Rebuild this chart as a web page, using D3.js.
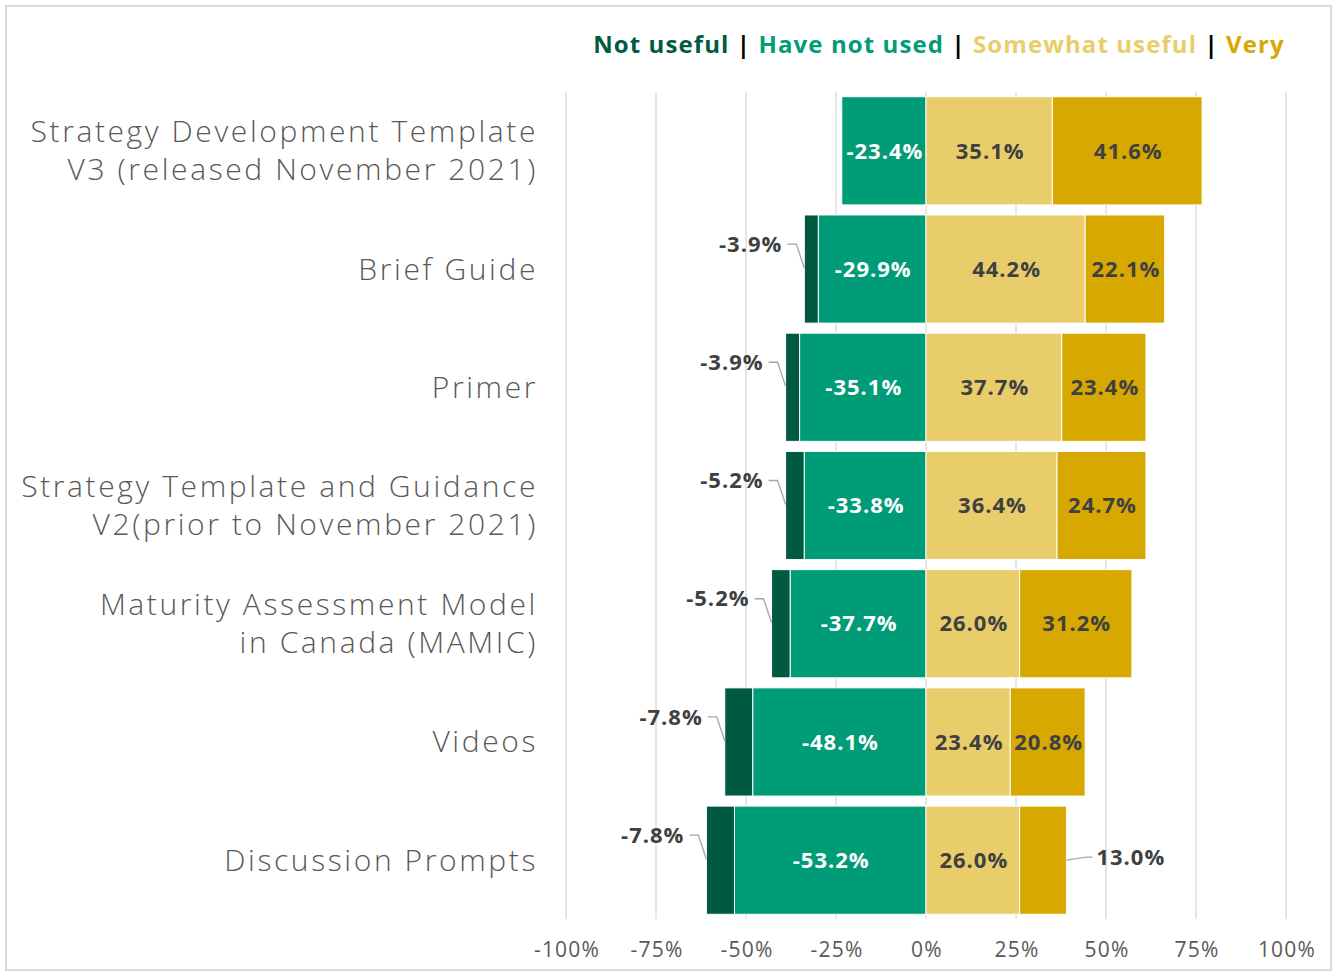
<!DOCTYPE html>
<html>
<head>
<meta charset="utf-8">
<script src="https://cdn.jsdelivr.net/npm/d3@7"></script>
<style>
  body { margin: 0; background: #fff; }
  svg { font-family: "Open Sans", sans-serif; }
</style>
</head>
<body>
<svg id="chart"></svg>
<script>
const categories = [
  ["Strategy Development Template", "V3 (released November 2021)"],
  ["Brief Guide"],
  ["Primer"],
  ["Strategy Template and Guidance", "V2(prior to November 2021)"],
  ["Maturity Assessment Model", "in Canada (MAMIC)"],
  ["Videos"],
  ["Discussion Prompts"]
];
const notUseful = [0, 3.9, 3.9, 5.2, 5.2, 7.8, 7.8];
const notUsed = [23.4, 29.9, 35.1, 33.8, 37.7, 48.1, 53.2];
const somewhat = [35.1, 44.2, 37.7, 36.4, 26.0, 23.4, 26.0];
const very = [41.6, 22.1, 23.4, 24.7, 31.2, 20.8, 13.0];
const ticks = [-100, -75, -50, -25, 0, 25, 50, 75, 100];
const legendItems = ["Not useful", "Have not used", "Somewhat useful", "Very"];

const width = 1337;
const height = 976;
const colors = ["#005A42", "#009B77", "#E8CD6A", "#D6A800"];

const svg = d3.select("#chart")
  .attr("width", width)
  .attr("height", height);

// outer frame
svg.append("rect")
  .attr("x", 6).attr("y", 6)
  .attr("width", 1325).attr("height", 964)
  .attr("fill", "none")
  .attr("stroke", "#d9d9d9")
  .attr("stroke-width", 2);

const x = d3.scaleLinear().domain([-100, 100]).range([566, 1286]);
const y = d3.scaleBand()
  .domain(d3.range(categories.length))
  .range([92, 919])
  .paddingInner(0.085)
  .paddingOuter(0.04);

// gridlines
svg.append("g")
  .selectAll("line")
  .data(ticks)
  .enter()
  .append("line")
  .attr("x1", d => x(d)).attr("x2", d => x(d))
  .attr("y1", 92).attr("y2", 919)
  .attr("stroke", "#d9d9d9")
  .attr("stroke-width", 1.3);

// tick labels
svg.append("g")
  .selectAll("text")
  .data(ticks)
  .enter()
  .append("text")
  .attr("x", d => x(d) + 1)
  .attr("y", 957)
  .attr("text-anchor", "middle")
  .attr("fill", "#595959")
  .style("font-size", "21px")
  .style("letter-spacing", "1.2px")
  .text(d => d + "%");

// build segments
const segs = [];
categories.forEach((c, i) => {
  const nu = notUseful[i], hn = notUsed[i], sw = somewhat[i], v = very[i];
  segs.push({ i, k: 0, x0: -(nu + hn), x1: -hn, v: -nu });
  segs.push({ i, k: 1, x0: -hn, x1: 0, v: -hn });
  segs.push({ i, k: 2, x0: 0, x1: sw, v: sw });
  segs.push({ i, k: 3, x0: sw, x1: sw + v, v: v });
});

svg.append("g")
  .selectAll("rect")
  .data(segs.filter(d => d.x1 - d.x0 > 0))
  .enter()
  .append("rect")
  .attr("x", d => x(d.x0))
  .attr("y", d => y(d.i))
  .attr("width", d => x(d.x1) - x(d.x0))
  .attr("height", y.bandwidth())
  .attr("fill", d => colors[d.k])
  .attr("stroke", "#fff")
  .attr("stroke-width", 1);

// labels inside bars
svg.append("g")
  .selectAll("text")
  .data(segs.filter(d => d.k > 0 && !(d.k === 3 && d.v < 15)))
  .enter()
  .append("text")
  .attr("x", d => x((d.x0 + d.x1) / 2) + 1)
  .attr("y", d => y(d.i) + y.bandwidth() / 2)
  .attr("dy", "0.35em")
  .attr("text-anchor", "middle")
  .attr("fill", d => d.k === 1 ? "#fff" : "#404040")
  .style("font-size", "22px")
  .style("font-weight", 700)
  .style("letter-spacing", "1px")
  .text(d => d.v.toFixed(1) + "%");

// callouts for small "not useful" pieces
const callouts = svg.append("g");
segs.filter(d => d.k === 0 && d.v < 0).forEach(d => {
  const bx = x(d.x0);
  const cy = y(d.i) + y.bandwidth() / 2;
  const ty = cy - 25;
  callouts.append("polyline")
    .attr("points", `${bx - 17},${ty} ${bx - 8},${ty} ${bx},${cy - 1}`)
    .attr("fill", "none")
    .attr("stroke", "#a6a6a6")
    .attr("stroke-width", 1.3);
  callouts.append("text")
    .attr("x", bx - 22)
    .attr("y", ty)
    .attr("dy", "0.35em")
    .attr("text-anchor", "end")
    .attr("fill", "#404040")
    .style("font-size", "22px")
    .style("font-weight", 700)
    .style("letter-spacing", "1px")
    .text(d.v.toFixed(1) + "%");
});

// callout for small "very" piece
segs.filter(d => d.k === 3 && d.v < 15).forEach(d => {
  const bx = x(d.x1);
  const cy = y(d.i) + y.bandwidth() / 2;
  callouts.append("polyline")
    .attr("points", `${bx},${cy} ${bx + 20},${cy - 3} ${bx + 26},${cy - 3}`)
    .attr("fill", "none")
    .attr("stroke", "#a6a6a6")
    .attr("stroke-width", 1.3);
  callouts.append("text")
    .attr("x", bx + 30)
    .attr("y", cy - 3)
    .attr("dy", "0.35em")
    .attr("fill", "#404040")
    .style("font-size", "22px")
    .style("font-weight", 700)
    .style("letter-spacing", "1px")
    .text(d.v.toFixed(1) + "%");
});

// category labels
const catText = svg.append("g")
  .selectAll("text")
  .data(categories)
  .enter()
  .append("text")
  .attr("text-anchor", "end")
  .attr("fill", "#595959")
  .style("font-size", "30px")
  .style("font-weight", 300)
  .style("letter-spacing", "2.6px");

catText.each(function(lines, i) {
  const cy = y(i) + y.bandwidth() / 2;
  const lh = 38;
  lines.forEach((l, j) => {
    d3.select(this).append("tspan")
      .attr("x", 538)
      .attr("y", cy + (j - (lines.length - 1) / 2) * lh)
      .attr("dy", "0.35em")
      .text(l);
  });
});

// legend
const legend = svg.append("text")
  .attr("x", 939)
  .attr("y", 45)
  .attr("dy", "0.35em")
  .attr("text-anchor", "middle")
  .style("font-size", "24px")
  .style("font-weight", 700)
  .style("letter-spacing", "1.1px");

legendItems.forEach((t, i) => {
  if (i > 0) legend.append("tspan").attr("fill", "#000").text(" | ");
  legend.append("tspan").attr("fill", colors[i]).text(t);
});
</script>
</body>
</html>
